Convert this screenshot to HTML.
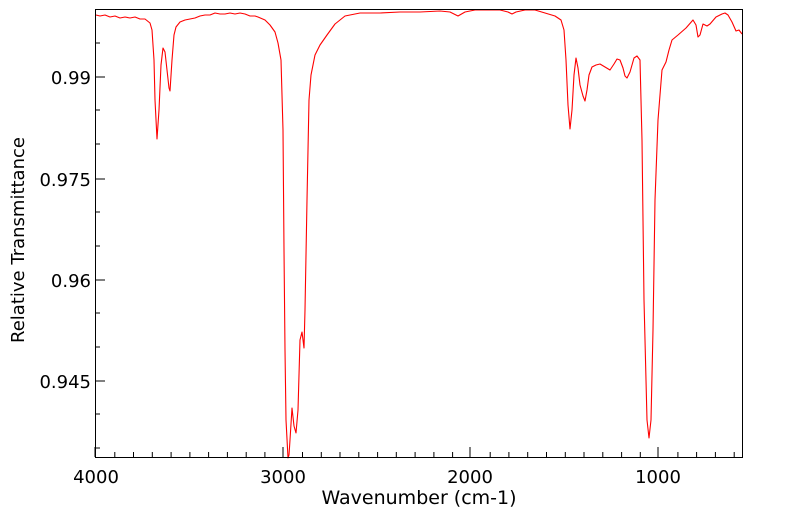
<!DOCTYPE html>
<html><head><meta charset="utf-8"><style>
body{margin:0;background:#fff;}
svg{display:block;font-family:"DejaVu Sans","Liberation Sans",sans-serif;}
</style></head><body>
<svg width="799" height="516" viewBox="0 0 799 516">
<rect width="799" height="516" fill="#fff"/>
<g stroke="#000" stroke-width="1">
<path d="M114.8,457v-5M133.5,457v-5M152.3,457v-5M171.1,457v-5M189.9,457v-5M208.6,457v-5M227.4,457v-5M246.2,457v-5M264.9,457v-5M302.5,457v-5M321.3,457v-5M340,457v-5M358.8,457v-5M377.6,457v-5M396.3,457v-5M415.1,457v-5M433.9,457v-5M452.6,457v-5M490.2,457v-5M508.9,457v-5M527.7,457v-5M546.5,457v-5M565.3,457v-5M584,457v-5M602.8,457v-5M621.6,457v-5M640.3,457v-5M677.9,457v-5M696.6,457v-5M715.4,457v-5M734.2,457v-5"/>
<path d="M95,457v-10M283,457v-10M470,457v-10M658,457v-10"/>
<path d="M95,77h10M95,179h10M95,280h10M95,381h10"/>
<path d="M95,43h5M95,110h5M95,144h5M95,212h5M95,246h5M95,313h5M95,347h5M95,414h5M95,448h5"/>
</g>
<polyline fill="none" stroke="#ff0000" stroke-width="1.1" stroke-linejoin="round" points="
96,15 100,16 105,15 110,17 115,16 120,18 125,17 130,18 135,17 140,19 145,19 150,23 152,30 154,60 155,100 157,139 159,110 161,65 163,48 165,52 167,70 169,88 170,91 172,60 174,35 176,27 180,22 185,20 190,19 195,18 200,16 205,15 210,15 215,13 220,14 225,14 230,13 235,14 240,13 245,14 250,16 255,16 258,17 265,20 270,25 275,32 278,43 281,60 283,130 284,250 285,350 286,420 288,458 289,455 290,440 292,408 294,426 296,433 298,410 300,340 302,332 304,348 305,310 307,200 309,100 311,75 315,55 320,45 327,35 335,24 345,16 360,13 380,13 400,12 420,12 440,11 450,12 458,16 465,12 475,10 490,10 500,10 508,12 512,14 516,12 525,10 535,10 545,13 555,16 561,20 564,30 566,60 568,105 570,129 572,110 574,75 576,58 578,68 580,85 583,96 585,101 587,90 589,75 592,67 596,65 600,64 605,67 610,70 614,64 617,59 620,60 623,68 625,76 627,78 630,72 634,58 637,56 640,60 642,140 644,300 647,420 649,438 651,420 653,330 655,200 658,120 662,70 666,62 669,50 672,40 678,35 686,28 693,20 696,25 698,37 700,35 703,24 707,26 710,24 716,17 722,14 725,13 728,15 732,22 736,31 739,30 742,34"/>
<rect x="95.5" y="9.5" width="647" height="448" fill="none" stroke="#000" stroke-width="1"/>
<g font-size="18" fill="#000" text-anchor="middle">
<text x="96" y="483">4000</text>
<text x="283" y="483">3000</text>
<text x="470" y="483">2000</text>
<text x="658" y="483">1000</text>
</g>
<g font-size="18" fill="#000" text-anchor="end">
<text x="91" y="84">0.99</text>
<text x="91" y="186">0.975</text>
<text x="91" y="287">0.96</text>
<text x="91" y="388">0.945</text>
</g>
<text x="419" y="504" font-size="19" text-anchor="middle">Wavenumber (cm-1)</text>
<text transform="translate(24,240) rotate(-90)" font-size="18" text-anchor="middle">Relative Transmittance</text>
</svg>
</body></html>
